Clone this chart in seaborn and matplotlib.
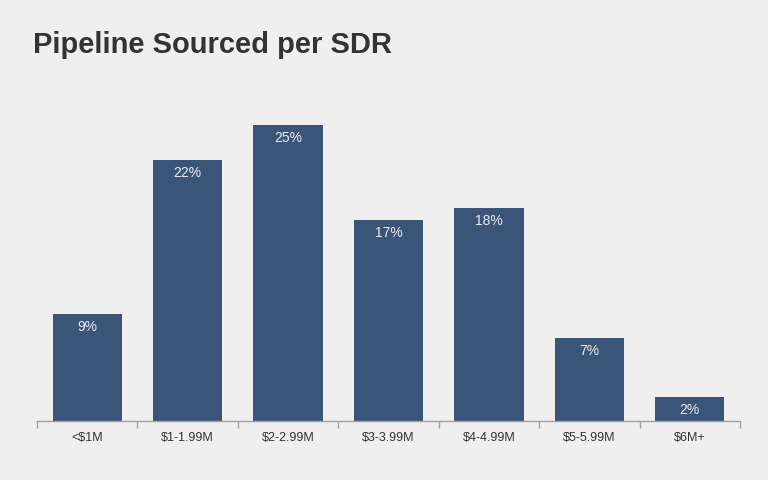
import matplotlib
matplotlib.use("Agg")
import matplotlib.pyplot as plt
import pandas as pd
import seaborn as sns

# Data
categories = ["<$1M", "$1-1.99M", "$2-2.99M", "$3-3.99M", "$4-4.99M", "$5-5.99M", "$6M+"]
shares = [9, 22, 25, 17, 18, 7, 2]

df = pd.DataFrame({"bucket": categories, "share": shares})

bg = "#efefef"
bar_color = "#3b5579"

sns.set_style("white")
plt.rcParams["font.family"] = ["Liberation Sans", "DejaVu Sans"]

fig = plt.figure(figsize=(7.68, 4.8), dpi=100, facecolor=bg)
ax = fig.add_axes([0.0482, 0.1229, 0.9153, 0.6688], facecolor=bg)

sns.barplot(data=df, x="bucket", y="share", color=bar_color, width=0.69,
            saturation=1, linewidth=0, ax=ax)

# Percent labels inside bars near the top
for i, v in enumerate(shares):
    ax.text(i, v - 0.5, f"{v}%", ha="center", va="top", color="#e8ecf2",
            fontsize=10)

ax.set_xlim(-0.5, len(categories) - 0.5)
ax.set_ylim(0, 27.1)
ax.set_xlabel("")
ax.set_ylabel("")
ax.set_yticks([])

# Axis line with tick marks between categories
for s in ["top", "right", "left"]:
    ax.spines[s].set_visible(False)
ax.spines["bottom"].set_color("#a0a0a0")
ax.spines["bottom"].set_linewidth(1)
ax.set_xticks(range(len(categories)))
ax.set_xticklabels(categories, fontsize=9, color="#333333")
ax.tick_params(axis="x", length=0, pad=8)
ax.set_xticks([i - 0.5 for i in range(len(categories) + 1)], minor=True)
ax.tick_params(axis="x", which="minor", bottom=True, direction="out", length=5,
               color="#a0a0a0", width=1)

fig.text(0.043, 0.89, "Pipeline Sourced per SDR", fontsize=21, fontweight="bold",
         color="#333333", ha="left", va="baseline")

fig.savefig("out.png", dpi=100, facecolor=bg)
